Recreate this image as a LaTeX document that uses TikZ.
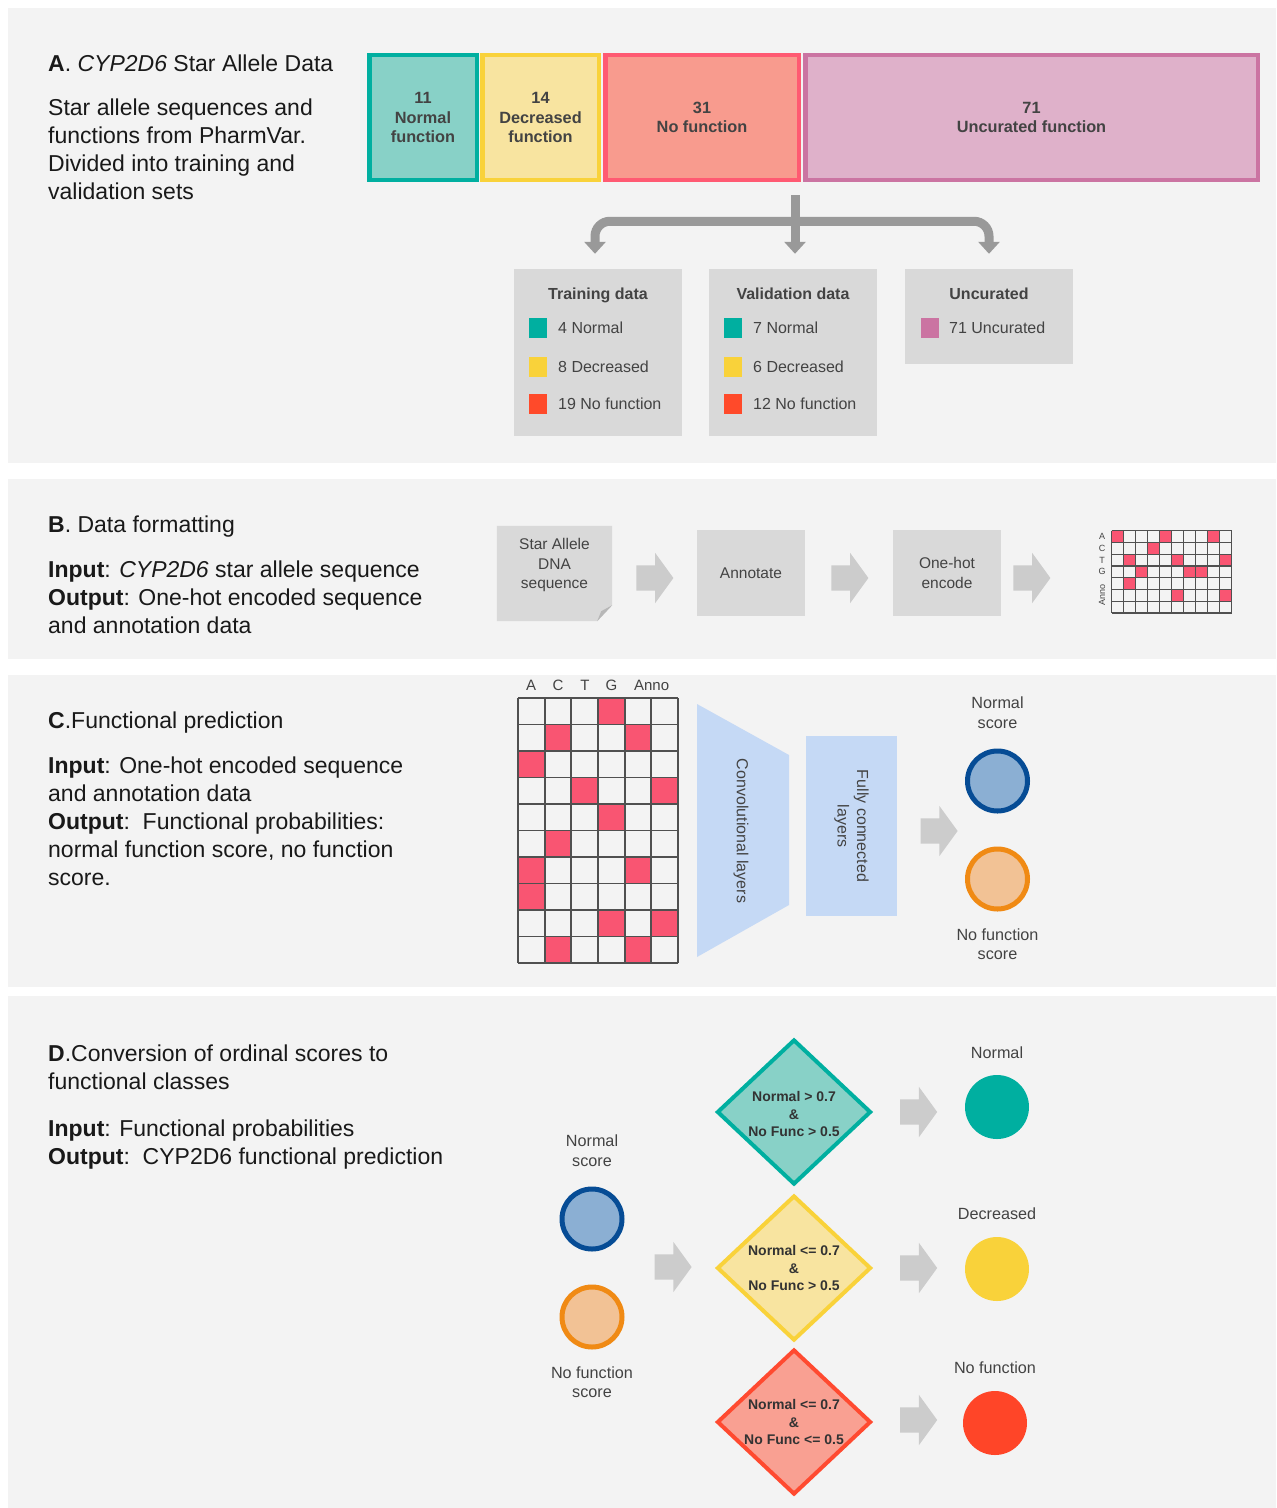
\documentclass[tikz,border=0pt]{standalone}
\usepackage{fontspec}
\setmainfont{Liberation Sans}
\usepackage{xcolor}
\definecolor{panelbg}{HTML}{F3F3F3}
\definecolor{boxgray}{HTML}{D9D9D9}
\definecolor{foldgray}{HTML}{B7B7B7}
\definecolor{labelgray}{HTML}{434343}
\definecolor{treegray}{HTML}{999999}
\definecolor{arrowgray}{HTML}{CCCCCC}
\definecolor{gridgray}{HTML}{505050}
\definecolor{hotred}{HTML}{F95572}
\definecolor{normteal}{HTML}{00AFA0}
\definecolor{normfill}{HTML}{88D1C7}
\definecolor{decyellow}{HTML}{F9D23A}
\definecolor{decfill}{HTML}{F8E4A0}
\definecolor{nofred}{HTML}{FF5A72}
\definecolor{noffill}{HTML}{F89B8E}
\definecolor{legred}{HTML}{FF4A2A}
\definecolor{uncpink}{HTML}{CB74A2}
\definecolor{uncfill}{HTML}{DFB1CA}
\definecolor{convblue}{HTML}{C5D9F5}
\definecolor{nsblue}{HTML}{064C95}
\definecolor{nsfill}{HTML}{8BAFD3}
\definecolor{nforange}{HTML}{F08A14}
\definecolor{nffill}{HTML}{F2C295}
\definecolor{condred}{HTML}{FF4A30}
\definecolor{condfill}{HTML}{F9A092}
\definecolor{outred}{HTML}{FF4528}
\usetikzlibrary{shapes.geometric, shapes.arrows, arrows.meta, positioning, calc}

\begin{document}
\begin{tikzpicture}[
        x=1pt, y=1pt,
        every node/.style={inner sep=0pt},
        body_text/.style={
            anchor=base west, 
            align=left, 
            font=\fontsize{23}{28}\selectfont, 
            text=black!90
        },
        cat_node/.style={
            rectangle, 
            line width=4.5pt, 
            align=center, 
            minimum height=125pt, 
            font=\fontsize{16.3}{19.5}\selectfont\bfseries, 
            text=labelgray
        },
        data_node/.style={
            rectangle, 
            fill=boxgray, 
            minimum width=168pt, 
            minimum height=167pt
        },
        data_title/.style={font=\fontsize{16}{19}\selectfont\bfseries, text=labelgray, text height=11.5pt, text depth=3.5pt},
        leg_square/.style={rectangle, minimum width=18pt, minimum height=20pt},
        leg_text/.style={font=\fontsize{16}{19}\selectfont, text=labelgray},
        tree_arrow/.style={
            -{Triangle[width=21pt, length=12pt]}, 
            draw=treegray, 
            line width=9pt
        },
        proc_text/.style={align=center, font=\fontsize{15.5}{19.5}\selectfont, text=labelgray},
        proc_node/.style={
            rectangle, 
            fill=boxgray, 
            proc_text,
            minimum width=108pt, 
            minimum height=86pt
        },
        block_arrow/.style={
            single arrow, 
            fill=arrowgray, 
            inner ysep=12.5pt,
            minimum height=37pt, 
            single arrow head extend=12.5pt, 
            single arrow tip angle=108
        },
        grid_line/.style={draw=gridgray, line width=1.3pt},
        grid_thick/.style={draw=gridgray, line width=1.8pt},
        score_node/.style={circle, line width=5pt, minimum size=60pt},
        score_label/.style={align=center, font=\fontsize{16.2}{19.5}\selectfont, text=labelgray},
        cond_node/.style={
            diamond, 
            line width=4pt, 
            minimum width=154pt, 
            minimum height=145pt
        },
        cond_text/.style={align=center, font=\fontsize{14}{17.5}\selectfont\bfseries, text=black!80},
        out_node/.style={circle, minimum size=64pt}
    ]

    \useasboundingbox (0,0) rectangle (1277,-1508);
    \fill[white] (0,0) rectangle (1277,-1508);

    % Panels
    \fill[panelbg] (8,-8) rectangle (1276,-463);
    \fill[panelbg] (8,-479) rectangle (1276,-659);
    \fill[panelbg] (8,-675) rectangle (1276,-987);
    \fill[panelbg] (8,-996) rectangle (1276,-1508);

    % A: star allele data
    \node[body_text] (headA) at (48,-71) {\textbf{A}. \textit{CYP2D6} Star Allele Data};
    \node[body_text] (descA) at (48,-199) {Star allele sequences and\\functions from PharmVar.\\Divided into training and\\validation sets};

    \node[cat_node, draw=normteal, fill=normfill, minimum width=107.5pt] (catnorm) at (423,-117.5) {11\\Normal\\function};
    \node[cat_node, draw=decyellow, fill=decfill, minimum width=116.5pt, right=1pt of catnorm] (catdec) {14\\Decreased\\function};
    \node[cat_node, draw=nofred, fill=noffill, minimum width=193.5pt, right=2pt of catdec] (catnof) {31\\No function};
    \node[cat_node, draw=uncpink, fill=uncfill, minimum width=452.5pt, right=2pt of catnof] (catunc) {71\\Uncurated function};

    \node[data_node] (train) at (598,-352.5) {};
    \node[data_node] (valid) at (793,-352.5) {};
    \node[data_node, minimum height=95pt] (uncur) at (989,-316.5) {};

    \node[data_title] at ([yshift=-27pt]train.north) {Training data};
    \node[data_title] at ([yshift=-27pt]valid.north) {Validation data};
    \node[data_title] at ([yshift=-27pt]uncur.north) {Uncurated};

    \foreach \bx/\nn/\nd/\nf in {train/4/8/19, valid/7/6/12} {
        \node[leg_square, fill=normteal] (\bx sqn) at ($(\bx.north west)+(24,-59)$) {};
        \node[leg_text, right=11pt of \bx sqn] {\nn\ Normal};
        \node[leg_square, fill=decyellow] (\bx sqd) at ($(\bx.north west)+(24,-98)$) {};
        \node[leg_text, right=11pt of \bx sqd] {\nd\ Decreased};
        \node[leg_square, fill=legred] (\bx sqf) at ($(\bx.north west)+(24,-135)$) {};
        \node[leg_text, right=11pt of \bx sqf] {\nf\ No function};
    }
    \node[leg_square, fill=uncpink] (uncsq) at ($(uncur.north west)+(25,-59)$) {};
    \node[leg_text, right=10pt of uncsq] {71 Uncurated};

    % split arrows
    \coordinate (split) at ([xshift=-6pt, yshift=-13pt]catnof.south east);
    \draw[tree_arrow] (split) -- ($(split |- valid.north)+(0,15)$);
    \draw[tree_arrow, {Triangle[width=21pt, length=12pt]}-{Triangle[width=21pt, length=12pt]}, rounded corners=15pt]
        ($(train.north)+(-3,15)$) |- ($(split)+(0,-26)$) -| ($(uncur.north)+(0,15)$);

    % B: data formatting
    \node[body_text] (headB) at (48,-532) {\textbf{B}. Data formatting};
    \node[body_text] (descB) at (48,-633) {\textbf{Input}: \textit{CYP2D6} star allele sequence\\\textbf{Output}: One-hot encoded sequence\\and annotation data};

    \node[proc_node, fill=none, minimum width=115pt, minimum height=95pt] (star) at (554.5,-573.5) {};
    \fill[boxgray] (star.north west) -- (star.north east) -- ([yshift=16pt]star.south east)
        -- ([xshift=-15pt]star.south east) -- (star.south west) -- cycle;
    \fill[foldgray] ([yshift=16pt]star.south east) -- ([xshift=-15pt]star.south east)
        -- ([xshift=-11pt, yshift=10pt]star.south east) -- cycle;
    \node[proc_text] at ([yshift=8.5pt]star.center) {Star Allele\\DNA\\sequence};

    \node[block_arrow, right=24pt of star, yshift=-4.5pt] (arr1) {};
    \node[proc_node] (annot) at (751,-573) {Annotate};
    \node[block_arrow, right=26pt of annot, yshift=-5pt] (arr2) {};
    \node[proc_node] (onehot) at (947,-573) {One-hot\\encode};
    \node[block_arrow, right=12pt of onehot, yshift=-5pt] (arr3) {};

    % small one-hot grid
    \foreach \r/\c in {1/1,1/5,1/9,2/4,3/2,3/6,3/10,4/3,4/7,4/8,5/2,6/6,6/10}
        \fill[hotred] (1111.7+12*\c-12, -530.7-11.76*\r+11.76) rectangle ++(12,-11.76);
    \foreach \i in {0,...,10}
        \draw[grid_line] (1111.7+12*\i,-530.7) -- ++(0,-82.3);
    \foreach \j in {0,...,7}
        \draw[grid_line] (1111.7,-530.7-11.76*\j) -- ++(120,0);
    \foreach \lab [count=\r] in {A,C,T,G}
        \node[font=\fontsize{9}{9}\selectfont, text=labelgray] at (1102,-530.7-11.76*\r+5.88) {\lab};
    \node[font=\fontsize{9}{9}\selectfont, text=labelgray, rotate=90] at (1102,-595.4) {Anno};

    % C: functional prediction
    \node[body_text] (headC) at (48,-728) {\textbf{C}.Functional prediction};
    \node[body_text] (descC) at (48,-885) {\textbf{Input}: One-hot encoded sequence\\and annotation data\\\textbf{Output}:\ \ Functional probabilities:\\normal function score, no function\\score.};

    \foreach \r/\c in {1/4,2/2,2/5,3/1,4/3,4/6,5/4,6/2,7/1,7/5,8/1,9/4,9/6,10/2,10/5}
        \fill[hotred] (518+26.67*\c-26.67, -698-26.5*\r+26.5) rectangle ++(26.67,-26.5);
    \foreach \i in {0,...,6}
        \draw[grid_thick] (518+26.67*\i,-698) -- ++(0,-265);
    \foreach \j in {0,...,10}
        \draw[grid_thick] (518,-698-26.5*\j) -- ++(160,0);
    \foreach \lab/\xc in {A/531,C/558,T/585,G/611.5,Anno/651.6}
        \node[font=\fontsize{15}{15}\selectfont, text=labelgray] at (\xc,-685) {\lab};

    \fill[convblue] (697,-704) -- (789,-755) -- (789,-905) -- (697,-957) -- cycle;
    \node[proc_text, font=\fontsize{16}{19.5}\selectfont, rotate=-90] (conv) at (741,-831) {Convolutional layers};
    \node[proc_text, font=\fontsize{16}{19.5}\selectfont, fill=convblue, minimum width=180pt, minimum height=91pt, rotate=-90] (fc) at (851.5,-826) {Fully connected\\layers};
    \node[block_arrow] (arrC) at (934.5,-831) {};

    \node[score_node, draw=nsblue, fill=nsfill] (nsC) at (997.5,-781) {};
    \node[score_node, draw=nforange, fill=nffill] (nfC) at (997.5,-879) {};
    \node[score_label, above=20pt of nsC] {Normal\\score};
    \node[score_label, below=17pt of nfC] {No function\\score};

    % D: conversion to classes
    \node[body_text] (headD) at (48,-1089) {\textbf{D}.Conversion of ordinal scores to\\functional classes};
    \node[body_text] (descD) at (48,-1164) {\textbf{Input}: Functional probabilities\\\textbf{Output}:\ \ CYP2D6 functional prediction};

    \node[score_node, draw=nsblue, fill=nsfill] (nsD) at (592,-1219) {};
    \node[score_node, draw=nforange, fill=nffill] (nfD) at (592,-1317) {};
    \node[score_label, above=20pt of nsD] {Normal\\score};
    \node[score_label, below=17pt of nfD] {No function\\score};
    \node[block_arrow] (arrD) at (668.5,-1267) {};

    \node[cond_node, draw=normteal, fill=normfill, label={[cond_text, yshift=-2pt]center:Normal > 0.7\\\&\\No Func > 0.5}] (cnorm) at (794,-1112) {};
    \node[cond_node, draw=decyellow, fill=decfill, label={[cond_text]center:Normal <= 0.7\\\&\\No Func > 0.5}] (cdec) at (794,-1268) {};
    \node[cond_node, draw=condred, fill=condfill, label={[cond_text]center:Normal <= 0.7\\\&\\No Func <= 0.5}] (cnof) at (794,-1422) {};

    \node[block_arrow, right=27pt of cnorm] (arrN) {};
    \node[block_arrow, right=27pt of cdec] (arrDe) {};
    \node[block_arrow, right=27pt of cnof, yshift=2pt] (arrNf) {};

    \node[out_node, fill=normteal] (onorm) at (997,-1107) {};
    \node[out_node, fill=decyellow] (odec) at (997,-1269) {};
    \node[out_node, fill=outred] (onof) at (995,-1423) {};
    \node[score_label, above=16pt of onorm] {Normal};
    \node[score_label, above=17pt of odec] {Decreased};
    \node[score_label, above=17pt of onof] {No function};

\end{tikzpicture}
\end{document}
